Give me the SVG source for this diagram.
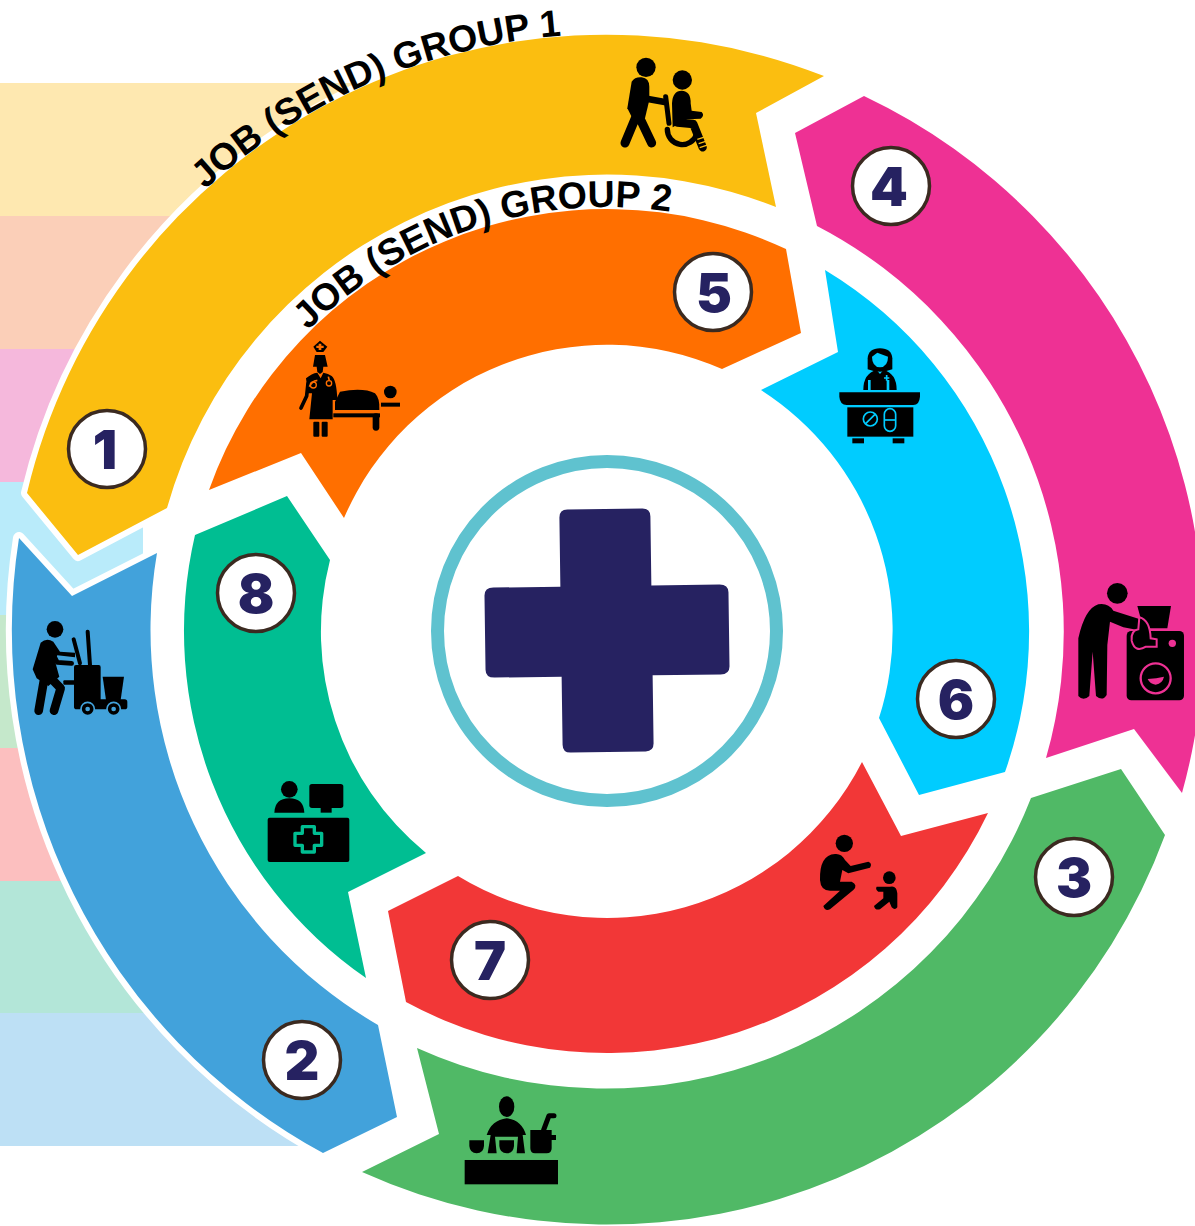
<svg xmlns="http://www.w3.org/2000/svg" xmlns:xlink="http://www.w3.org/1999/xlink" width="1195" height="1226" viewBox="0 0 1195 1226">
<style>
.seg{stroke:none}
.edge{stroke:#fff;stroke-width:12;stroke-linejoin:round;paint-order:stroke}
.badge{fill:#fff;stroke:#3b2a20;stroke-width:3.500}
.num{font-family:"Inter","Liberation Sans",sans-serif;font-weight:900;font-size:54px;fill:#262261;text-anchor:middle}
.arc{font-family:"Liberation Sans",Arial,sans-serif;font-weight:700;font-size:37.5px;fill:#000}
.k{fill:#000}
.kl{fill:none;stroke:#000;stroke-linecap:round;stroke-linejoin:round}
</style>
<defs>
<path id="p1" d="M149.700 247.100A597 597 0 0 1 811.200 70"/>
<path id="p2" d="M239.800 419A424 424 0 0 1 752 232.600"/>
</defs>
<g id="bands">
<rect x="0" y="83" width="420" height="133" fill="#fee8b0"/>
<rect x="0" y="216" width="420" height="133" fill="#fbcfb8"/>
<rect x="0" y="349" width="420" height="133" fill="#f5b8dc"/>
<rect x="0" y="615" width="420" height="133" fill="#c5e8cb"/>
<rect x="0" y="748" width="420" height="133" fill="#fcbfbf"/>
<rect x="0" y="881" width="420" height="132" fill="#b3e6d8"/>
<rect x="0" y="1013" width="420" height="133" fill="#bde0f5"/>
<circle cx="607" cy="631" r="598" fill="#fff"/>
<rect x="0" y="482" width="143" height="133" fill="#b9ebfa"/>
</g>
<g id="connectors"></g>
<g id="seg1"><path class="edge" fill="#fbbe10" d="M27 493L78 555L167 508A457 457 0 0 1 776 207L756 113L824 76A595 595 0 0 0 27 493Z"/></g>
<g id="seg2"><path class="edge" fill="#42a2db" d="M19 538L72 596L157 553A457 457 0 0 0 378 1025L397 1117L323 1153A595 595 0 0 1 19 538Z"/></g>
<g id="seg4"><path class="seg" fill="#ee3194" d="M864 96L795 133L817 226A457 457 0 0 1 1046 758L1134 729L1182 793A595 595 0 0 0 864 96Z"/></g>
<g id="seg3"><path class="seg" fill="#50b966" d="M1031 798L1121 769L1165 835A595 595 0 0 1 362 1172L439 1134L417 1048A457 457 0 0 0 1031 798Z"/></g>
<g id="seg5"><path class="seg" fill="#ff6f00" d="M209 490L301 453L344 518A286 286 0 0 1 722 369L801 333L786 249A422 422 0 0 0 209 490Z"/></g>
<g id="seg6"><path class="seg" fill="#00ccff" d="M825 270L838 352L761 390A286 286 0 0 1 879 718L919 795L1005 772A422 422 0 0 0 825 270Z"/></g>
<g id="seg7"><path class="seg" fill="#f23737" d="M988 813L901 836L862 762A286 286 0 0 1 458 876L388 911L406 1002A422 422 0 0 0 988 813Z"/></g>
<g id="seg8"><path class="seg" fill="#00be92" d="M366 978A422 422 0 0 1 195 535L287 496L330 560A286 286 0 0 0 426 853L348 892Z"/></g>
<g id="labels">
<text class="arc"><textPath xlink:href="#p1" href="#p1" startOffset="80">JOB (SEND) GROUP 1</textPath></text>
<text class="arc"><textPath xlink:href="#p2" href="#p2" startOffset="112">JOB (SEND) GROUP 2</textPath></text>
</g>
<g id="center">
<circle cx="607" cy="631" r="169.500" fill="#fff" stroke="#5fc2cf" stroke-width="13"/>
<path fill="#262261" transform="rotate(-0.8 607 631)" d="M569 509H644Q652 509 652 517V586H720Q729 586 729 594V668Q729 676 720 676H652V744Q652 752 644 752H569Q561 752 561 744V676H494Q485 676 485 668V594Q485 586 494 586H561V517Q561 509 569 509Z"/>
</g>
<g id="icon1" transform="translate(590 40) scale(.3333)">
<circle class="k" cx="168" cy="82" r="29"/>
<path class="k" d="M112 205L125 125Q135 110 155 112Q178 115 178 140V180L165 235L130 240Z"/>
<path class="kl" stroke-width="27" d="M140 225L105 309M145 225L185 309"/>
<path class="kl" stroke-width="20" d="M170 176L224 186"/>
<circle class="k" cx="277" cy="120" r="29"/>
<path class="k" d="M246 190Q248 152 275 152Q303 153 302 190L305 212L335 216Q345 226 332 236L292 238L248 262Z"/>
<path class="kl" stroke-width="25" d="M262 248L310 252L338 322"/>
<path class="kl" stroke-width="15" d="M227 170L237 250"/>
<path class="kl" stroke-width="16" d="M232 268A45 45 0 0 0 320 282"/>
<path fill="none" stroke="#fbbe10" stroke-width="4" d="M322 298L350 289M326 311L354 302M329 323L356 314"/>
</g>
<g id="icon2" transform="translate(20 610) scale(.3333)">
<circle class="k" cx="105" cy="58" r="25"/>
<path class="k" d="M38 178L62 98Q80 82 100 95L120 125L165 128V142L112 136L104 150L118 200L85 228L50 205Z"/>
<path class="kl" stroke-width="14" d="M98 130L112 157L155 160"/>
<path class="kl" stroke-width="26" d="M72 210L56 302M98 210L122 235L102 302"/>
<path class="kl" stroke-width="12" d="M161 88L180 160M203 65L210 165"/>
<rect class="k" x="162" y="165" width="80" height="115" rx="6"/>
<rect class="k" x="130" y="211" width="36" height="13" rx="3"/>
<path class="k" d="M248 200H312L302 270H258Z"/>
<rect class="k" x="162" y="268" width="160" height="30" rx="8"/>
<circle class="k" cx="203" cy="297" r="20" stroke="#42a2db" stroke-width="5"/>
<circle class="k" cx="281" cy="297" r="20" stroke="#42a2db" stroke-width="5"/>
<circle cx="203" cy="297" r="7" fill="#42a2db"/>
<circle cx="281" cy="297" r="7" fill="#42a2db"/>
</g>
<g id="icon3" transform="translate(450 1085) scale(.3333)">
<ellipse class="k" cx="170" cy="65" rx="23" ry="31"/>
<path class="k" d="M110 150Q125 105 170 100Q215 105 228 150H218L225 205H200L204 155H135L140 205H113L122 150Z"/>
<path class="k" d="M148 166H192V183Q190 205 170 205Q150 205 148 183Z"/>
<path class="k" d="M58 166H102V183Q100 205 80 205Q60 205 58 183Z"/>
<rect class="k" x="44" y="225" width="280" height="73"/>
<path class="k" d="M241 135H305V150H318V165H305V190Q305 205 290 205H255Q241 205 241 190Z"/>
<path class="kl" stroke-width="15" d="M281 135L297 92H312"/>
</g>
<g id="icon4" transform="translate(1060 570) scale(.3333)">
<circle class="k" cx="172" cy="70" r="31"/>
<path class="k" d="M55 205Q75 115 115 103Q145 98 160 122L240 148L245 182L190 172L150 155L142 225L140 375Q128 395 108 378L98 245L88 378Q70 395 55 378Z"/>
<path class="k" d="M232 108H333L322 175H250Z"/>
<rect class="k" x="200" y="183" width="172" height="208" rx="14"/>
<path d="M238 142Q270 150 272 205L290 208V230H258Q225 250 215 212Q212 182 235 178Z" fill="#000" stroke="#ee3194" stroke-width="6"/>
<circle cx="337" cy="220" r="11" fill="#ee3194"/>
<circle cx="287" cy="325" r="45" fill="#000" stroke="#ee3194" stroke-width="7"/>
<path fill="#ee3194" d="M263 327Q290 325 312 320Q308 340 287 344Q270 342 263 327Z"/>
</g>
<g id="icon5" transform="translate(280 330) scale(.3333)">
<path class="k" d="M120 32L142 50L130 66H110L100 50Z"/>
<path fill="#ff6f00" d="M116 41H124V47H131V54H124V60H116V54H109V47H116Z"/>
<path class="k" d="M99 110L105 75H135L143 110H130L128 126L120 132L112 126L110 110Z"/>
<path class="k" d="M78 145Q95 130 112 128L122 145L130 128Q145 130 155 138Q170 150 172 210H158L158 268H88L96 190L84 190Z"/>
<path class="kl" stroke-width="11" d="M84 160L80 198L63 234"/>
<path fill="none" stroke="#ff6f00" stroke-width="5" d="M88 170Q98 150 112 152M145 140L150 160"/>
<circle cx="100" cy="165" r="9" fill="none" stroke="#ff6f00" stroke-width="4"/>
<circle cx="147" cy="160" r="8" fill="#000" stroke="#ff6f00" stroke-width="4"/>
<rect class="k" x="100" y="275" width="18" height="45" rx="3"/>
<rect class="k" x="125" y="275" width="18" height="45" rx="3"/>
<path class="k" d="M165 215L180 185Q250 172 285 190Q300 205 298 240H165Z"/>
<rect class="k" x="160" y="250" width="140" height="12"/>
<rect class="k" x="278" y="250" width="20" height="52" rx="10"/>
<circle class="k" cx="331" cy="186" r="19"/>
<rect class="k" x="303" y="218" width="57" height="12"/>
</g>
<g id="icon6" transform="translate(820 330) scale(.3333)">
<path class="k" d="M143 118V85Q145 55 180 55Q215 55 217 85V118Q200 125 180 125Q160 125 143 118Z"/>
<path fill="#00ccff" d="M156 80L172 68L204 80Q204 110 180 112Q156 110 156 80Z"/>
<path class="k" d="M130 180Q130 130 170 120L180 132L190 120Q230 130 230 180H208V150H200V180H152V150H144V180Z"/>
<path fill="none" stroke="#00ccff" stroke-width="5" d="M200 135V152M192 144H208"/>
<path class="k" d="M58 187H300V200Q298 225 280 225H80Q60 225 58 200Z"/>
<rect class="k" x="82" y="232" width="198" height="88"/>
<rect class="k" x="97" y="325" width="35" height="15"/>
<rect class="k" x="218" y="325" width="35" height="15"/>
<circle cx="151" cy="267" r="21" fill="none" stroke="#00ccff" stroke-width="5"/>
<path stroke="#00ccff" stroke-width="5" d="M137 281L165 253"/>
<rect x="193" y="236" width="34" height="68" rx="17" fill="none" stroke="#00ccff" stroke-width="5"/>
<path stroke="#00ccff" stroke-width="5" d="M193 270H227"/>
</g>
<g id="icon7" transform="translate(800 820) scale(.3333)">
<circle class="k" cx="133" cy="70" r="26"/>
<path class="k" d="M60 180Q58 105 105 102Q125 100 135 120L152 138L205 125Q218 130 210 143L145 160L127 150L120 185H155Q175 195 160 210L90 268Q75 275 70 258L120 212H90Q62 212 60 180Z"/>
<circle class="k" cx="268" cy="173" r="19"/>
<path class="k" d="M230 200H270Q290 195 292 220V262Q285 272 275 262L268 245L240 268Q225 272 222 258L250 235V215H235Q225 208 230 200Z"/>
</g>
<g id="icon8" transform="translate(255 770) scale(.3333)">
<circle class="k" cx="103" cy="58" r="25"/>
<path class="k" d="M58 128Q60 85 103 85Q146 85 148 128Z"/>
<rect class="k" x="163" y="42" width="102" height="72" rx="8"/>
<rect class="k" x="197" y="112" width="33" height="16"/>
<rect class="k" x="38" y="143" width="245" height="133" rx="6"/>
<path d="M142 170H178V190H200V226H178V246H142V226H120V190H142Z" fill="#000" stroke="#00be92" stroke-width="10" stroke-linejoin="round"/>
</g>
<g id="badge1"><circle class="badge" cx="107" cy="449" r="38.500"/><text class="num" x="105" y="469">1</text></g>
<g id="badge2"><circle class="badge" cx="302" cy="1060" r="38.500"/><text class="num" x="302" y="1080">2</text></g>
<g id="badge3"><circle class="badge" cx="1074" cy="877" r="38.500"/><text class="num" x="1074" y="897">3</text></g>
<g id="badge4"><circle class="badge" cx="891" cy="186" r="38.500"/><text class="num" x="889" y="206">4</text></g>
<g id="badge5"><circle class="badge" cx="713" cy="292" r="38.500"/><text class="num" x="714" y="312">5</text></g>
<g id="badge6"><circle class="badge" cx="956" cy="699" r="38.500"/><text class="num" x="956" y="719">6</text></g>
<g id="badge7"><circle class="badge" cx="490" cy="960" r="38.500"/><text class="num" x="490" y="980">7</text></g>
<g id="badge8"><circle class="badge" cx="256" cy="593" r="38.500"/><text class="num" x="256" y="613">8</text></g>
</svg>
